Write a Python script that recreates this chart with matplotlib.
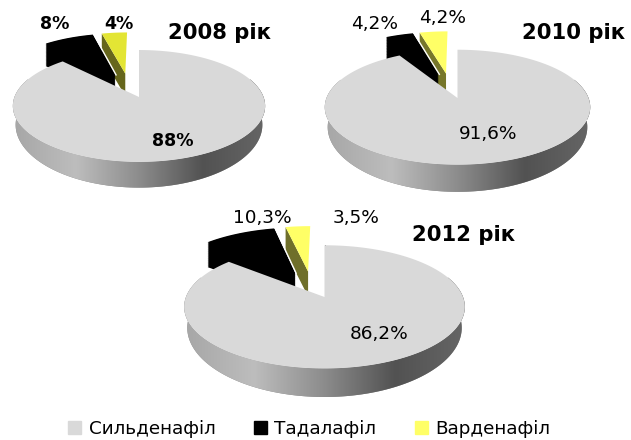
import numpy as np
import matplotlib
matplotlib.use("Agg")
import matplotlib.pyplot as plt
from matplotlib.colors import LinearSegmentedColormap
from matplotlib.patches import Patch

# Дані
years = ["2008 рік", "2010 рік", "2012 рік"]
names = ["Сильденафіл", "Тадалафіл", "Варденафіл"]
sildenafil = [88, 91.6, 86.2]
tadalafil = [8, 4.2, 10.3]
vardenafil = [4, 4.2, 3.5]

# Розміщення (пікселі рисунка)
centers = [(139, 97), (457.5, 98), (324.5, 297)]
radii = [(124.5, 54.5), (131, 56), (138.5, 60)]
depths = [18, 19, 20]
title_pos = [(219, 33), (574, 33), (464, 235)]
label_pos = [
    [(173, 141), (55, 24), (119, 24)],
    [(488, 134), (375, 24), (443, 18)],
    [(379, 334), (262, 218), (356, 218)],
]
label_weight = ["bold", "normal", "normal"]
label_size = [12.5, 13.3, 13.3]
yellow_top = ["#e3e534", "#ffff66", "#ffff66"]
yellow_side = ["#66661c", "#77772a", "#6f6f2a"]

GREY = "#d9d9d9"
K = 0.16
K_DEPTH = 0.3
EXPLODE = 0.24

wall_cmap = LinearSegmentedColormap.from_list(
    "wall", ["#a6a6a6", "#bdbdbd", "#8c8c8c", "#525252", "#666666"])


def proj(u, v, c, r):
    w = 1 + K * v
    return c[0] + r[0] * u / w, c[1] - r[1] * v / w


def rim(a1, a2, off, n=80):
    # кути за годинниковою стрілкою від 12 години
    t = np.radians(np.linspace(a1, a2, n))
    return off[0] + np.sin(t), off[1] + np.cos(t)


def drop(v, d):
    return d / (1 + K_DEPTH * v)


def draw_year(ax, i):
    c, r, d = centers[i], radii[i], depths[i]
    values = [sildenafil[i], tadalafil[i], vardenafil[i]]
    angles = np.cumsum([0] + values) * 3.6
    mids = np.radians((angles[:-1] + angles[1:]) / 2)
    dirs = [(np.sin(m), np.cos(m)) for m in mids]
    offs = [(EXPLODE * (p[0] - dirs[0][0]), EXPLODE * (p[1] - dirs[0][1])) for p in dirs]

    # жовтий сектор
    u, v = rim(angles[2], angles[3], offs[2])
    x, y = proj(u, v, c, r)
    ax_, ay_ = proj(offs[2][0], offs[2][1], c, r)
    dc = 1.25 * d
    ax.fill([x[0], ax_, ax_, x[0]], [y[0], ay_, ay_ + dc, y[0] + dc],
            color=yellow_side[i], lw=0, zorder=2)
    ax.fill(np.r_[x, ax_], np.r_[y, ay_], color=yellow_top[i], lw=0, zorder=3)

    # чорний сектор
    u, v = rim(angles[1], angles[2], offs[1])
    au, av = offs[1]
    for s in np.linspace(1, 0, 40):
        px, py = proj(np.r_[u, au], np.r_[v, av], c, r)
        ax.fill(px, py + s * 1.25 * d, color="black", lw=0, zorder=4)
    # біла кромка біля жовтого сектора
    ex, ey = proj(np.array([u[-1], au]), np.array([v[-1], av]), c, r)
    ax.plot(ex + 0.8, ey, color="white", lw=1.0, zorder=5)

    # сіра стінка
    u, v = rim(70, 290, (0, 0), 160)
    x, y = proj(u, v, c, r)
    xb = c[0] + (x - c[0]) * 0.978
    yb = y + drop(v, d)
    wall, = ax.fill(np.r_[x, xb[::-1]], np.r_[y, yb[::-1]], color="#888888", lw=0, zorder=6)
    grad = np.linspace(0, 1, 256).reshape(1, -1)
    left, right = c[0] - r[0] - 3, c[0] + r[0] + 3
    img = ax.imshow(grad, extent=(left, right, yb.max() + 2, y.min() - 2),
                    cmap=wall_cmap, aspect="auto", zorder=7)
    img.set_clip_path(wall)

    # сірий сектор
    u, v = rim(angles[0], angles[1], (0, 0), 240)
    x, y = proj(u, v, c, r)
    ax.plot([c[0], c[0]], [y[0], c[1]], color="#666666", lw=0.7, zorder=7.5)
    ax.fill(np.r_[x, c[0]], np.r_[y, c[1]], color=GREY, lw=0, zorder=8)

    for val, pos in zip(values, label_pos[i]):
        txt = f"{val:g}".replace(".", ",") + "%"
        ax.text(pos[0], pos[1], txt, fontsize=label_size[i], fontweight=label_weight[i],
                ha="center", va="center", color="black", zorder=10)
    ax.text(title_pos[i][0], title_pos[i][1], years[i], fontsize=15.2, fontweight="bold",
            ha="center", va="center", color="black", zorder=10)


fig = plt.figure(figsize=(6.31, 4.40), dpi=100)
ax = fig.add_axes([0, 0, 1, 1])

for i in range(len(years)):
    draw_year(ax, i)

ax.set_xlim(0, 631)
ax.set_ylim(440, 0)
ax.axis("off")

handles = [Patch(color=GREY), Patch(color="black"), Patch(color="#ffff66")]
ax.legend(handles, names, loc="center", bbox_to_anchor=(0.49, 0.025), ncol=3, frameon=False,
          fontsize=13.2, handlelength=0.72, handleheight=0.7, handletextpad=0.4,
          columnspacing=2.1, borderpad=0, borderaxespad=0)

fig.savefig("out.png", dpi=100)
